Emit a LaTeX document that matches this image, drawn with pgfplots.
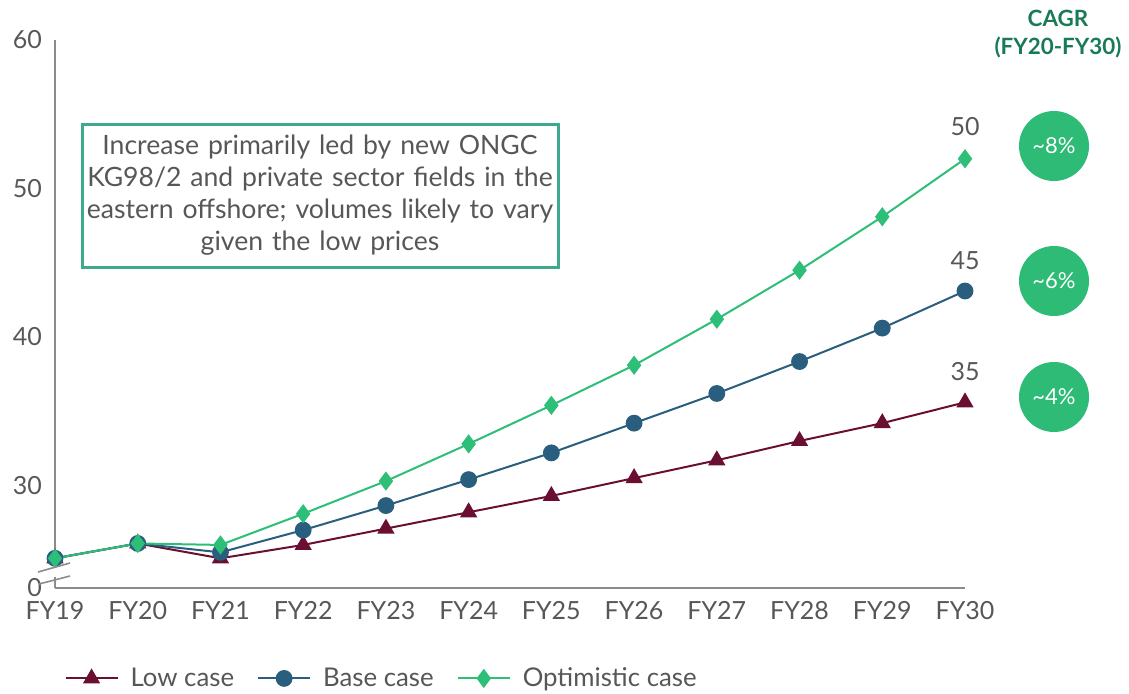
\documentclass[border=0pt]{standalone}
\usepackage{pgfplots}
\pgfplotsset{compat=1.18}
\usepackage{fontspec}
\setmainfont{Lato}

\definecolor{lowc}{HTML}{6B0F32}
\definecolor{basec}{HTML}{295E7E}
\definecolor{optc}{HTML}{2DBE78}
\definecolor{badge}{HTML}{2DBB76}
\definecolor{cagrc}{HTML}{197A56}
\definecolor{boxc}{HTML}{3DAA8D}
\definecolor{txt}{HTML}{575757}
\definecolor{axc}{HTML}{8C8C8C}

\pgfplotstableread{
x low base opt
0 25.1 25.1 25.1
1 26.1 26.1 26.1
2 25.1 25.5 26.0
3 26.0 27.0 28.1
4 27.1 28.65 30.3
5 28.2 30.4 32.8
6 29.3 32.2 35.4
7 30.5 34.2 38.1
8 31.7 36.2 41.2
9 33.0 38.35 44.5
10 34.2 40.6 48.1
11 35.6 43.1 52.0
}\gasdata

\begin{document}
\begin{tikzpicture}
\path[use as bounding box] (0,0) rectangle (564.5pt,346.5pt);
\begin{axis}[
  at={(27.5pt,52.5pt)}, anchor=south west,
  scale only axis, width=455pt, height=274pt,
  xmin=0, xmax=11, ymin=23.1, ymax=60,
  clip=false,
  separate axis lines,
  axis x line*=bottom, axis y line*=left,
  x axis line style={draw=axc, line width=0.9pt, -},
  y axis line style={draw=none, -},
  xtick={0,...,11},
  xticklabels={FY19,FY20,FY21,FY22,FY23,FY24,FY25,FY26,FY27,FY28,FY29,FY30},
  ytick={23.1,30,40,50,60},
  yticklabels={0,30,40,50,60},
  major tick length=0pt,
  /pgf/number format/assume math mode=true,
  ticklabel style={font=\fontsize{12.5}{14}\selectfont, text=txt},
  xticklabel style={yshift=-3pt},
  yticklabel style={xshift=-3pt},
  legend columns=3,
  legend style={at={(axis description cs:0.0035,-0.165)}, anchor=west, draw=none,
    fill=none, font=\fontsize{12.9}{15}\selectfont, text=txt,
    /tikz/every odd column/.append style={column sep=6pt},
    /tikz/every even column/.append style={column sep=11.5pt},
    nodes={inner xsep=0pt}},
  legend image code/.code={
    \draw[mark repeat=2, mark phase=2] plot coordinates {(0pt,0pt)(13pt,0pt)(26pt,0pt)};},
  every axis plot/.append style={line width=1pt},
]
% broken y axis line
\draw[axc, line width=0.9pt] (axis cs:0,60) -- (axis cs:0,24.95);
\draw[axc, line width=0.9pt] (axis cs:0,23.87) -- (axis cs:0,23.1);

\addplot[color=lowc, mark=triangle*, mark size=4pt, mark options={solid}] table[x=x, y=low] {\gasdata};
\addlegendentry{Low case}
\addplot[color=basec, mark=*, mark size=3.7pt, mark options={solid}] table[x=x, y=base] {\gasdata};
\addlegendentry{Base case}
\addplot[color=optc, mark=diamond*, mark size=4pt, mark options={solid}] table[x=x, y=opt] {\gasdata};
\addlegendentry{Optimistic case}

% end-of-period labels
\node[text=txt, font=\fontsize{12.5}{14}\selectfont] at (axis cs:11,52.0) [yshift=16pt] {50};
\node[text=txt, font=\fontsize{12.5}{14}\selectfont] at (axis cs:11,43.1) [yshift=15pt] {45};
\node[text=txt, font=\fontsize{12.5}{14}\selectfont] at (axis cs:11,35.6) [yshift=15.5pt] {35};
\end{axis}

% axis break marks
\draw[axc, line width=0.8pt] (19pt,60.5pt) -- (35pt,65pt);
\draw[axc, line width=0.8pt] (19.5pt,54.5pt) -- (35pt,58.5pt);

% annotation box
\node[draw=boxc, line width=1.5pt, minimum width=238pt, minimum height=71.5pt,
  text width=234pt, align=center, text=txt, inner sep=0pt,
  font=\fontsize{13.3}{16}\selectfont] at (160pt,248.75pt)
  {Increase primarily led by new ONGC\\KG98/2 and private sector fields in the\\eastern offshore; volumes likely to vary\\given the low prices};

% CAGR column
\node[text=cagrc, font=\bfseries\fontsize{11.2}{14}\selectfont, align=center] at (529pt,329.5pt)
  {CAGR\\(FY20-FY30)};
\foreach \yy/\lab in {273.5/8, 206/6, 148/4} {
  \fill[badge] (527pt,\yy pt) circle (17.5pt);
  \node[text=white, font=\fontsize{11}{12}\selectfont] at (527pt,\yy pt) {\textasciitilde\lab\%};
}
\end{tikzpicture}
\end{document}
